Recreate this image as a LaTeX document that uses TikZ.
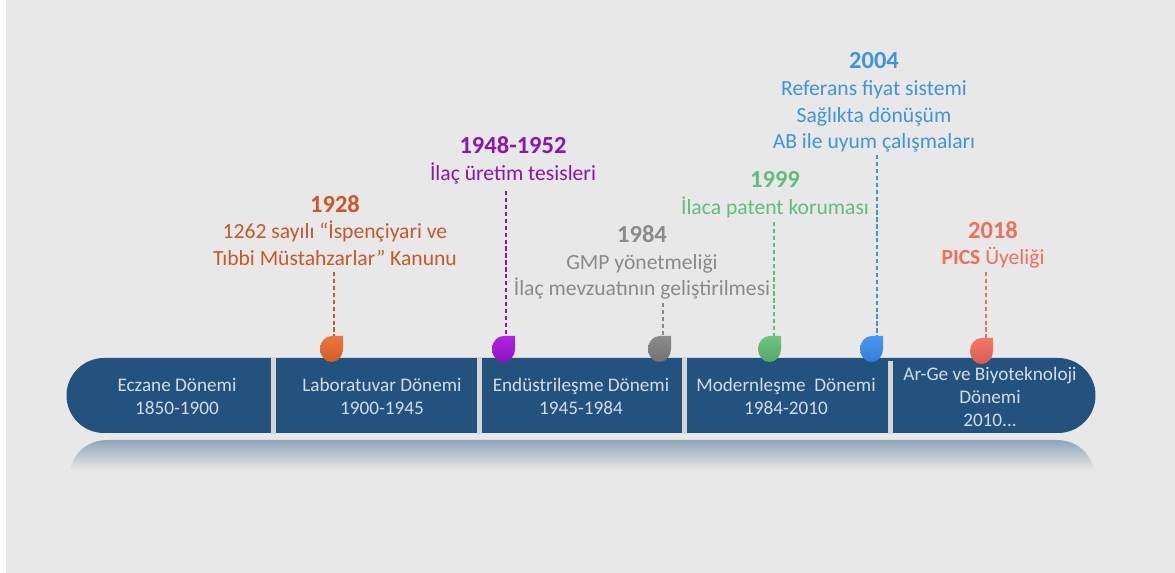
\documentclass[tikz,border=0pt]{standalone}
\usepackage{fontspec}
\setmainfont{Carlito}
\usetikzlibrary{calc}
\definecolor{bgc}{HTML}{E8E8E8}
\definecolor{barc}{HTML}{24527F}
\definecolor{bartext}{HTML}{CFDDE6}
\definecolor{cOrange}{HTML}{C9582A}
\definecolor{cPurple}{HTML}{8A14B4}
\definecolor{cGray}{HTML}{8A8A8A}
\definecolor{cGreen}{HTML}{62BC7C}
\definecolor{cBlue}{HTML}{3F94E2}
\definecolor{cRed}{HTML}{F0705E}
\definecolor{dOrange}{HTML}{EC6A2A}
\definecolor{dPurple}{HTML}{A514DC}
\definecolor{dGray}{HTML}{828282}
\definecolor{dGreen}{HTML}{62BE78}
\definecolor{dBlue}{HTML}{3A8EF2}
\definecolor{dRed}{HTML}{F4695A}
\tikzset{
  x=0.75pt,y=-0.75pt,
  label text/.style={align=center,inner sep=0pt,font=\fontsize{16.2}{20}\selectfont,anchor=center},
  era text/.style={align=center,inner sep=0pt,font=\fontsize{14.4}{17.2}\selectfont,text=bartext,anchor=center},
  stem/.style={dashed,line width=1pt,dash pattern=on 3.2pt off 2pt},
  divider/.style={fill=bgc!92!black},
}
\newcommand{\yearfont}{\fontsize{18.4}{20}\selectfont\bfseries}
\newcommand{\dropshape}[2]{%
  \shade[top color=#2!92!white,bottom color=#2!88!black] (#1) -- ++(0,13)
    arc[start angle=0,end angle=270,x radius=11.5,y radius=13] -- cycle;}
\begin{document}
\begin{tikzpicture}
\useasboundingbox (0,0) rectangle (1175,573);
\fill[white] (0,0) rectangle (1175,573);
\fill[bgc] (6,0) rectangle (1175,573);
% reflection
\shade[top color=barc!45!bgc,bottom color=bgc]
  (70,470) .. controls (74,452) and (88,440) .. (108,440) -- (1056,440)
  .. controls (1076,440) and (1090,452) .. (1094,470) -- cycle;
% bar
\fill[barc] (104,358) -- (1058,358) arc[start angle=-90,end angle=90,radius=37.5] -- (104,433)
  arc[start angle=90,end angle=270,radius=37.5] -- cycle;
\foreach \a/\b in {271/276,477/482,682/687}
  \fill[divider] (\a,358) rectangle (\b,434);
\fill[divider] (888,361) rectangle (893,434);
% era labels
\node[era text] (era1) at (177,396) {Eczane Dönemi\\1850-1900};
\node[era text] (era2) at (382,396) {Laboratuvar Dönemi\\1900-1945};
\node[era text] (era3) at (581,396) {Endüstrileşme Dönemi\\1945-1984};
\node[era text] (era4) at (786,396) {Modernleşme\ \ Dönemi\\1984-2010};
\node[era text] (era5) at (990,396.5) {Ar-Ge ve Biyoteknoloji\\Dönemi\\2010...};
% drop tips
\coordinate (d1) at (343,336);
\coordinate (d2) at (515,336);
\coordinate (d3) at (671,336);
\coordinate (d4) at (781,336);
\coordinate (d5) at (883,336);
\coordinate (d6) at (993,338);
% stem ends
\coordinate (s1) at (334,272); \coordinate (e1) at (334,336);
\coordinate (s2) at (506,191); \coordinate (e2) at (506,336);
\coordinate (s3) at (663,303); \coordinate (e3) at (663,336);
\coordinate (s4) at (774,222); \coordinate (e4) at (774,336);
\coordinate (s5) at (877,155); \coordinate (e5) at (877,336);
\coordinate (s6) at (986,272); \coordinate (e6) at (986,338);
\draw[stem,cOrange] (s1) -- (e1);
\draw[stem,cPurple] (s2) -- (e2);
\draw[stem,cGray] (s3) -- (e3);
\draw[stem,cGreen] (s4) -- (e4);
\draw[stem,cBlue] (s5) -- (e5);
\draw[stem,cRed] (s6) -- (e6);
\dropshape{d1}{dOrange}
\dropshape{d2}{dPurple}
\dropshape{d3}{dGray}
\dropshape{d4}{dGreen}
\dropshape{d5}{dBlue}
\dropshape{d6}{dRed}
% labels
\node[label text,text=cOrange] (l1) at (335,230.5) {{\yearfont 1928}\\1262 sayılı “İspençiyari ve\\Tıbbi Müstahzarlar" Kanunu};
\node[label text,text=cPurple] (l2) at (513,160.5) {{\yearfont 1948-1952}\\İlaç üretim tesisleri};
\node[label text,text=cGray] (l3) at (642,262.5) {{\yearfont 1984}\\GMP yönetmeliği\\İlaç mevzuatının geliştirilmesi};
\node[label text,text=cGreen] (l4) at (775,194.5) {{\yearfont 1999}\\İlaca patent koruması};
\node[label text,text=cBlue] (l5) at (874,102.5) {{\yearfont 2004}\\Referans fiyat sistemi\\Sağlıkta dönüşüm\\AB ile uyum çalışmaları};
\node[label text,text=cRed] (l6) at (993,245) {{\yearfont 2018}\\{\bfseries PICS} Üyeliği};
\end{tikzpicture}
\end{document}
